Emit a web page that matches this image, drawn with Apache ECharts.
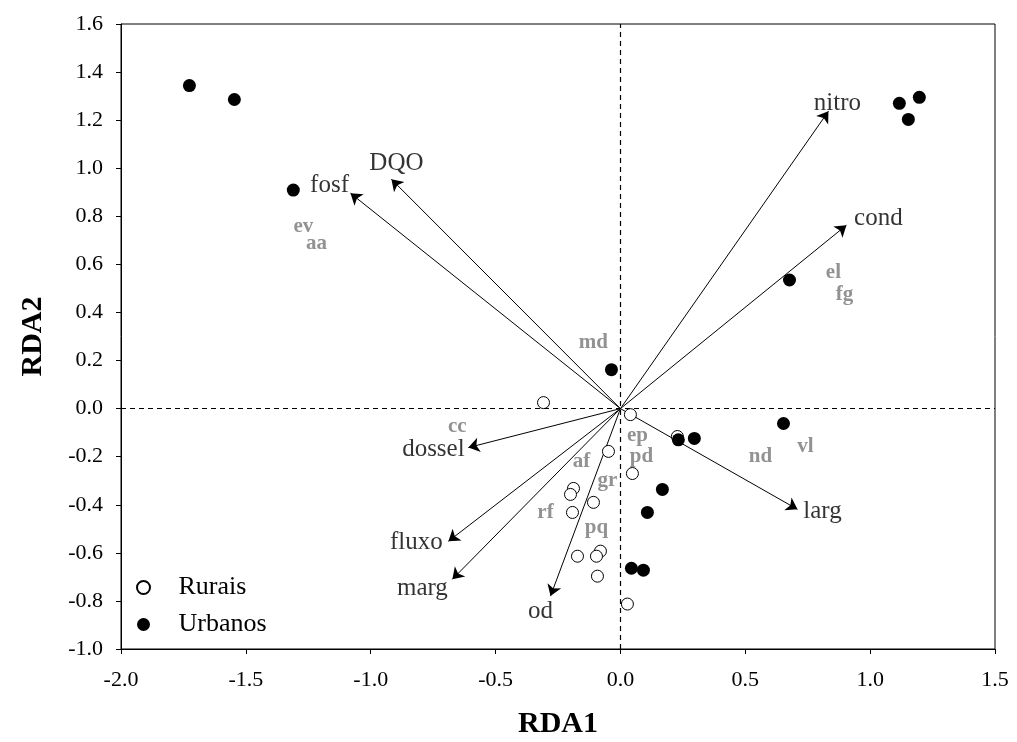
<!DOCTYPE html>
<html><head><meta charset="utf-8">
<script src="https://cdn.jsdelivr.net/npm/echarts@6/dist/echarts.min.js"></script>
<style>html,body{margin:0;padding:0;background:#fff;overflow:hidden}#c{width:1017px;height:742px}</style>
</head><body><div id="c"></div>
<script>
const ruraisPts = [[-0.308,0.025],[0.04,-0.025],[0.228,-0.116],[-0.048,-0.178],[0.048,-0.27],[-0.188,-0.332],[-0.2,-0.357],[-0.108,-0.39],[-0.192,-0.432],[-0.172,-0.614],[-0.08,-0.593],[-0.096,-0.614],[-0.092,-0.697],[0.028,-0.813]];
const urbanosPts = [[-1.726,1.344],[-1.546,1.286],[-1.31,0.909],[1.117,1.27],[1.197,1.295],[1.153,1.203],[0.677,0.535],[-0.036,0.162],[0.653,-0.062],[0.232,-0.13],[0.296,-0.124],[0.168,-0.336],[0.108,-0.432],[0.044,-0.664],[0.092,-0.672]];
const envNames = ['nitro','cond','fosf','DQO','dossel','fluxo','marg','od','larg'];
const envTips = [[0.833,1.237],[0.905,0.763],[-1.081,0.896],[-0.917,0.954],[-0.609,-0.162],[-0.689,-0.552],[-0.673,-0.71],[-0.28,-0.78],[0.709,-0.419]];
const envLabelPos = [[0.869,1.27],[1.033,0.793],[-1.165,0.929],[-0.897,1.021],[-0.749,-0.17],[-0.817,-0.556],[-0.793,-0.747],[-0.32,-0.842],[0.809,-0.427]];
const spNames = ['ev','aa','md','cc','el','fg','vl','nd','ep','pd','af','gr','rf','pq'];
const spPos = [[-1.27,0.759],[-1.217,0.685],[-0.108,0.274],[-0.653,-0.075],[0.853,0.564],[0.897,0.473],[0.741,-0.158],[0.561,-0.199],[0.068,-0.112],[0.084,-0.199],[-0.156,-0.22],[-0.052,-0.299],[-0.3,-0.432],[-0.096,-0.494]];
const xTicks = {min:-2, max:1.5, interval:0.5};
const yTicks = {min:-1, max:1.6, interval:0.2};

const FONT = '"Liberation Serif","DejaVu Serif",serif';
const chart = echarts.init(document.getElementById('c'));
chart.setOption({
  animation:false,
  grid:{left:121,right:22,top:24,bottom:93,outerBoundsMode:'none',containLabel:false,show:true,borderColor:'#000',borderWidth:1,backgroundColor:'transparent'},
  legend:{
    orient:'vertical',left:136,top:574,padding:0,itemGap:10,itemWidth:14,itemHeight:13,
    data:[{name:'Rurais',icon:'circle'},{name:'Urbanos',icon:'circle'}],
    textStyle:{fontFamily:FONT,fontSize:26,lineHeight:27,color:'#000',padding:[0,0,0,23]}
  },
  xAxis:{type:'value',min:xTicks.min,max:xTicks.max,interval:xTicks.interval,
    name:'RDA1',nameLocation:'middle',nameGap:60,
    nameTextStyle:{fontFamily:FONT,fontSize:30,fontWeight:'bold',color:'#000'},
    axisLine:{show:true,onZero:false,lineStyle:{color:'#000'}},
    axisTick:{show:true,inside:false,length:5,lineStyle:{color:'#000'}},
    axisLabel:{fontFamily:FONT,fontSize:22,color:'#000',margin:20,formatter:v=>v.toFixed(1)},
    splitLine:{show:false}},
  yAxis:{type:'value',min:yTicks.min,max:yTicks.max,interval:yTicks.interval,
    name:'RDA2',nameLocation:'middle',nameGap:73,nameRotate:90,
    nameTextStyle:{fontFamily:FONT,fontSize:30,fontWeight:'bold',color:'#000'},
    axisLine:{show:true,onZero:false,lineStyle:{color:'#000'}},
    axisTick:{show:true,inside:false,length:5,lineStyle:{color:'#000'}},
    axisLabel:{fontFamily:FONT,fontSize:22,color:'#000',margin:18,formatter:v=>v.toFixed(1)},
    splitLine:{show:false}},
  series:[
    {type:'lines',coordinateSystem:'cartesian2d',z:3,silent:true,
      symbol:['none','arrow'],symbolSize:[0,11],
      lineStyle:{color:'#000',width:1,opacity:1,curveness:0},
      data:envTips.map(t=>({coords:[[0,0],t]})),
      markLine:{silent:true,symbol:'none',label:{show:false},
        lineStyle:{color:'#000',type:[5,4],width:1.2},
        data:[{xAxis:0},{yAxis:0}]}
    },
    {name:'Rurais',type:'scatter',z:4,symbol:'circle',symbolSize:12,
      itemStyle:{color:'#fff',borderColor:'#000',borderWidth:1,opacity:1},
      data:ruraisPts},
    {name:'Urbanos',type:'scatter',z:4,symbol:'circle',symbolSize:13,
      itemStyle:{color:'#000',borderColor:'#000',borderWidth:0,opacity:1},
      data:urbanosPts},
    {type:'scatter',z:5,silent:true,symbolSize:1,itemStyle:{color:'rgba(0,0,0,0)'},
      label:{show:true,position:'inside',fontFamily:FONT,fontSize:25,color:'#000',formatter:p=>p.name},
      data:envNames.map((n,i)=>({name:n,value:envLabelPos[i]}))},
    {type:'scatter',z:5,silent:true,symbolSize:1,itemStyle:{color:'rgba(0,0,0,0)'},
      label:{show:true,position:'inside',fontFamily:FONT,fontSize:21,fontWeight:'bold',color:'#777',formatter:p=>p.name},
      data:spNames.map((n,i)=>({name:n,value:spPos[i]}))}
  ]
});
</script></body></html>
